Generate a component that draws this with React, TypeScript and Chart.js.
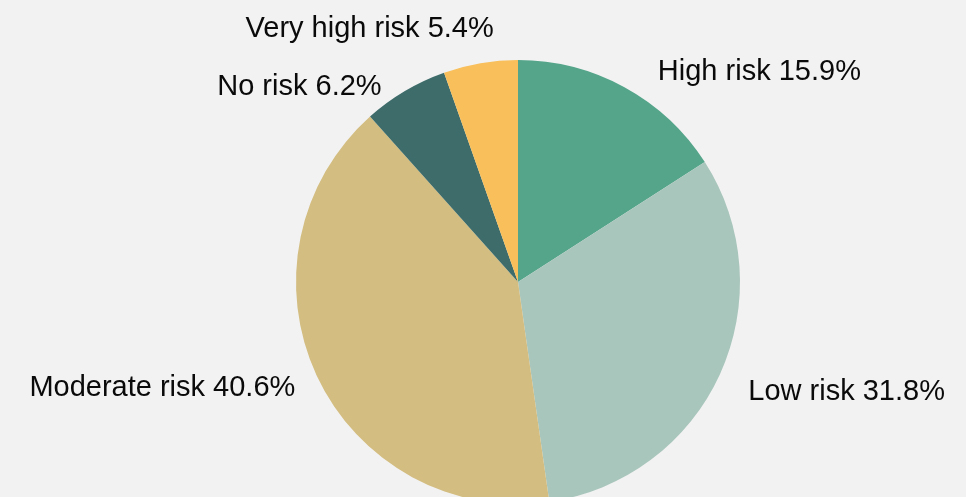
import React, { useEffect, useRef } from "react";
import { Chart, registerables } from "chart.js";

Chart.register(...registerables);

const categories = ["High risk", "Low risk", "Moderate risk", "No risk", "Very high risk"];
const shares = [15.9, 31.8, 40.6, 6.2, 5.4];
const colors = ["#55a58b", "#a9c6bc", "#d3bd80", "#3e6c6a", "#f8bf5a"];
// small nudges so labels sit where the reference put them (px)
const labelNudges: [number, number][] = [
  [20, 9],
  [3, 6],
  [4, 1],
  [-9, 20],
  [18, -7],
];

const outsideLabels = {
  id: "outsideLabels",
  afterDatasetsDraw(chart: any) {
    const ctx = chart.ctx;
    const meta = chart.getDatasetMeta(0);
    ctx.save();
    ctx.font = '29px "Liberation Sans", Arial, sans-serif';
    ctx.fillStyle = "#0a0a0a";
    ctx.textBaseline = "middle";
    meta.data.forEach((arc: any, i: number) => {
      const { x, y, startAngle, endAngle, outerRadius } = arc.getProps(
        ["x", "y", "startAngle", "endAngle", "outerRadius"],
        true
      );
      const mid = (startAngle + endAngle) / 2;
      const r = outerRadius + 28;
      const ax = x + Math.cos(mid) * r + labelNudges[i][0];
      const ay = y + Math.sin(mid) * r + labelNudges[i][1];
      ctx.textAlign = Math.cos(mid) >= 0 ? "left" : "right";
      ctx.fillText(`${categories[i]} ${shares[i].toFixed(1)}%`, ax, ay);
    });
    ctx.restore();
  },
};

export default function App() {
  const ref = useRef<HTMLCanvasElement>(null);
  useEffect(() => {
    if (!ref.current) return;
    const chart = new Chart(ref.current, {
      type: "pie",
      data: {
        labels: categories,
        datasets: [
          {
            data: shares,
            backgroundColor: colors,
            borderWidth: 0,
          },
        ],
      },
      options: {
        responsive: false,
        animation: false,
        layout: { padding: { left: 70, right: 0, top: 60, bottom: 60 } },
        plugins: {
          legend: { display: false },
          tooltip: { enabled: false },
        },
      },
      plugins: [outsideLabels],
    });
    return () => chart.destroy();
  }, []);
  return (
    <div
      style={{
        position: "fixed",
        left: 0,
        top: 0,
        width: 966,
        height: 497,
        overflow: "hidden",
        background: "#f2f2f2",
      }}
    >
      <canvas ref={ref} width={966} height={564} style={{ display: "block" }} />
    </div>
  );
}
